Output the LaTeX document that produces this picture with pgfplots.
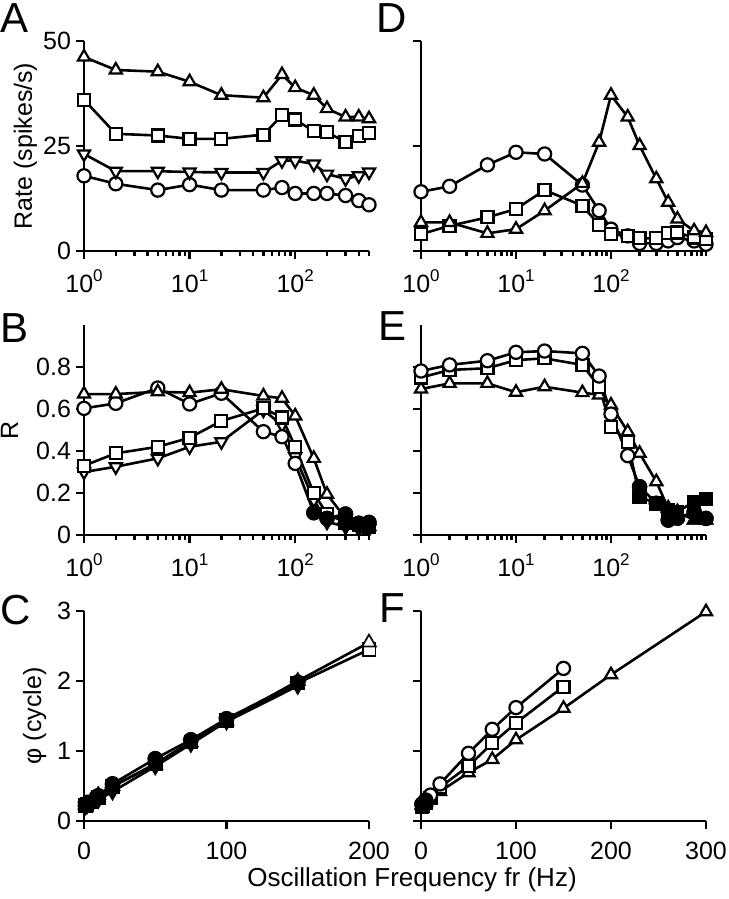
\documentclass[border=0pt]{standalone}
\usepackage{fontspec}
\setmainfont{Liberation Sans}
\usepackage{pgfplots}
\pgfplotsset{compat=1.18}
\newcommand{\dec}[1]{10\raisebox{0.44em}{\fontsize{8.5}{9}\selectfont #1}}
\pgfplotsset{
  panel/.style={
    scale only axis, width=142.5pt, height=105pt,
    axis lines*=left, clip=false,
    axis line style={line width=1.25pt},
    every tick/.style={line width=1.25pt, black},
    tick align=outside,
    major tick length=4pt, minor tick length=2.5pt,
    tick label style={font=\fontsize{12.5}{14}\selectfont},
    yticklabel style={xshift=1pt},
    anchor=north west,
  },
  ylab/.style={every axis y label/.style={at={(rel axis cs:0,0.5)}, xshift=#1, rotate=90, anchor=base, inner sep=0pt, font=\fontsize{12.5}{14}\selectfont}},
  linx/.style={xticklabel style={yshift=-2.8pt}},
  logA/.style={xmin=1, xmax=500, xtick={1,10,100},
    xticklabels={\dec{0},\dec{1},\dec{2}}, xticklabel style={yshift=-2pt},
    minor xtick={2,3,4,5,6,7,8,9,20,30,40,50,60,70,80,90,200,300,400,500}},
  logD/.style={xmin=1, xmax=1000, xtick={1,10,100},
    xticklabels={\dec{0},\dec{1},\dec{2}}, xticklabel style={yshift=-2pt},
    minor xtick={2,3,4,5,6,7,8,9,20,30,40,50,60,70,80,90,200,300,400,500,600,700,800,900,1000}},
  oc/.style={black, line width=1.3pt, mark=*, mark size=3.3pt, mark options={fill=white, line width=1.1pt}},
  os/.style={black, line width=1.3pt, mark=square*, mark size=3pt, mark options={fill=white, line width=1.1pt}},
  ot/.style={black, line width=1.3pt, mark=triangle*, mark size=3.5pt, mark options={fill=white, line width=1.1pt}},
  ov/.style={black, line width=1.3pt, mark=triangle*, mark size=3.5pt, mark options={fill=white, line width=1.1pt, rotate=180}},
  fc/.style={black, only marks, mark=*, mark size=3.3pt, mark options={fill=black, line width=1.1pt}},
  fs/.style={black, only marks, mark=square*, mark size=3pt, mark options={fill=black, line width=1.1pt}},
  ft/.style={black, only marks, mark=triangle*, mark size=3.5pt, mark options={fill=black, line width=1.1pt}},
  fv/.style={black, only marks, mark=triangle*, mark size=3.5pt, mark options={fill=black, line width=1.1pt, rotate=180}},
}
\begin{document}
\begin{tikzpicture}
\useasboundingbox (0pt,0pt) rectangle (364pt,-449.5pt);
\tikzset{lab/.style={anchor=base west, inner sep=0pt, font=\fontsize{21}{22}\selectfont}}
\node[lab] at (0pt,-16.5pt) {A};
\node[lab] at (0pt,-171pt) {B};
\node[lab] at (0pt,-312pt) {C};
\node[lab] at (188pt,-16.5pt) {D};
\node[lab] at (189pt,-170pt) {E};
\node[lab] at (189.5pt,-311pt) {F};
\node[anchor=base, inner sep=0pt, font=\fontsize{13}{15}\selectfont] at (206pt,-443pt) {Oscillation Frequency fr (Hz)};

% ---------- A ----------
\begin{axis}[xmode=log, panel, logA, ylab=-26pt, at={(42pt,-20.5pt)}, ymin=0, ymax=50, ytick={0,25,50}, yticklabels={0,25,50},
  ylabel={Rate (spikes/s)}]
\addplot[oc] coordinates {(1,17.9)(2,16)(5,14.5)(10,15.8)(20,14.5)(50,14.5)(75,15.1)(100,13.7)(150,13.7)(200,13.7)(300,13.2)(400,12)(500,11)};
\addplot[ov] coordinates {(1,23.1)(2,19)(5,19)(10,18.8)(20,18.7)(50,18.7)(75,21.5)(100,21.5)(150,20.7)(200,18.3)(300,17.2)(400,17.9)(500,18.8)};
\addplot[os] coordinates {(1,36)(2,27.9)(5,27.5)(10,26.7)(20,26.7)(50,27.7)(75,32.3)(100,31.3)(150,28.5)(200,28.3)(300,25.9)(400,27.3)(500,28)};
\addplot[ot] coordinates {(1,46.2)(2,43.1)(5,42.7)(10,40.3)(20,37.1)(50,36.5)(75,42)(100,38.9)(150,37.1)(200,33.9)(300,31.9)(400,31.9)(500,31.5)};
\end{axis}

% ---------- D ----------
\begin{axis}[xmode=log, panel, logD, at={(210.5pt,-20.5pt)}, ymin=0, ymax=50, ytick={0,25,50}, yticklabels={}]
\addplot[oc] coordinates {(1,14.1)(2,15.4)(5,20.5)(10,23.5)(20,23.1)(50,15.7)(75,9.6)(100,5.2)(150,3.6)(200,1.8)(300,1.8)(400,2.4)(500,3.2)(750,2.4)(1000,1.6)};
\addplot[os] coordinates {(1,4.0)(2,6.0)(5,8.0)(10,10.0)(20,14.5)(50,10.8)(75,6.2)(100,4.0)(150,3.6)(200,3.0)(300,3.0)(400,4.2)(500,4.4)(750,3.2)(1000,2.8)};
\addplot[ot] coordinates {(1,6.8)(2,6.8)(5,4.2)(10,5.2)(20,9.6)(50,16.1)(75,25.9)(100,37.1)(150,31.9)(200,25.1)(300,17.2)(400,11.6)(500,7.6)(750,4.8)(1000,4.4)};
\end{axis}

% ---------- B ----------
\begin{axis}[xmode=log, panel, logA, ylab=-33pt, at={(42pt,-162.5pt)}, ymin=0, ymax=1, ytick={0,0.2,0.4,0.6,0.8}, yticklabels={0,0.2,0.4,0.6,0.8},
  ylabel={R}]
\addplot[ov] coordinates {(1,0.30)(2,0.325)(5,0.365)(10,0.42)(20,0.444)(50,0.595)(75,0.524)(100,0.373)(150,0.167)(200,0.063)(300,0.04)(400,0.03)(500,0.03)};
\addplot[fv] coordinates {(200,0.063)(300,0.04)(400,0.03)(500,0.03)};
\addplot[os] coordinates {(1,0.33)(2,0.389)(5,0.42)(10,0.463)(20,0.543)(50,0.603)(75,0.56)(100,0.42)(150,0.199)(200,0.10)(300,0.06)(400,0.05)(500,0.04)};
\addplot[fs] coordinates {(300,0.06)(400,0.05)(500,0.04)};
\addplot[oc] coordinates {(1,0.603)(2,0.627)(5,0.70)(10,0.624)(20,0.675)(50,0.492)(75,0.468)(100,0.341)(150,0.106)(200,0.079)(300,0.10)(400,0.056)(500,0.06)};
\addplot[fc] coordinates {(150,0.106)(200,0.079)(300,0.10)(400,0.056)(500,0.06)};
\addplot[ot] coordinates {(1,0.671)(2,0.671)(5,0.682)(10,0.678)(20,0.694)(50,0.662)(75,0.651)(100,0.567)(150,0.365)(200,0.194)(300,0.08)(400,0.05)(500,0.04)};
\addplot[ft] coordinates {(300,0.08)(400,0.05)(500,0.04)};
\end{axis}

% ---------- E ----------
\begin{axis}[xmode=log, panel, logD, at={(210.5pt,-162.5pt)}, ymin=0, ymax=1, ytick={0,0.2,0.4,0.6,0.8}, yticklabels={}]
\addplot[ot] coordinates {(1,0.695)(2,0.722)(5,0.722)(10,0.68)(20,0.706)(50,0.678)(75,0.667)(100,0.619)(150,0.492)(200,0.389)(300,0.254)(400,0.127)(500,0.11)(750,0.071)(1000,0.071)};
\addplot[ft] coordinates {(400,0.127)(500,0.11)(750,0.071)(1000,0.071)};
\addplot[os] coordinates {(1,0.75)(2,0.786)(5,0.794)(10,0.833)(20,0.841)(50,0.81)(75,0.706)(100,0.516)(150,0.444)(200,0.182)(300,0.15)(400,0.119)(500,0.11)(750,0.159)(1000,0.17)};
\addplot[fs] coordinates {(200,0.182)(300,0.15)(400,0.119)(500,0.11)(750,0.159)(1000,0.17)};
\addplot[oc] coordinates {(1,0.781)(2,0.81)(5,0.83)(10,0.87)(20,0.876)(50,0.865)(75,0.757)(100,0.576)(150,0.378)(200,0.23)(300,0.151)(400,0.071)(500,0.08)(750,0.11)(1000,0.079)};
\addplot[fc] coordinates {(200,0.23)(300,0.151)(400,0.071)(500,0.08)(750,0.11)(1000,0.079)};
\end{axis}

% ---------- C ----------
\begin{axis}[panel, linx, ylab=-21.5pt, at={(42pt,-305.5pt)}, xmin=0, xmax=200, xtick={0,100,200}, xticklabels={0,100,200},
  ymin=0, ymax=3, ytick={0,1,2,3}, yticklabels={0,1,2,3}, ylabel={φ (cycle)}]
\addplot[ov, mark options={fill=black, rotate=180}] coordinates {(1,0.21)(2,0.22)(5,0.25)(10,0.3)(20,0.42)(50,0.78)(75,1.1)(100,1.42)(150,1.93)};
\addplot[os, mark options={fill=black}] coordinates {(1,0.22)(2,0.24)(5,0.27)(10,0.34)(20,0.49)(50,0.82)(75,1.13)(100,1.44)(150,1.97)(200,2.45)};
\addplot[fs, mark options={fill=white}] coordinates {(200,2.45)};
\addplot[ot, mark options={fill=black}] coordinates {(1,0.23)(2,0.25)(5,0.29)(10,0.37)(20,0.5)(50,0.8)(75,1.12)(100,1.43)(150,2.0)(200,2.55)};
\addplot[ft, mark options={fill=white}] coordinates {(200,2.55)};
\addplot[oc, mark options={fill=none}] coordinates {(1,0.22)(2,0.23)(5,0.27)(10,0.36)(20,0.53)(50,0.89)(75,1.16)(100,1.46)(150,1.98)};
\end{axis}

% ---------- F ----------
\begin{axis}[panel, linx, at={(210.5pt,-305.5pt)}, xmin=0, xmax=300, xtick={0,100,200,300}, xticklabels={0,100,200,300},
  ymin=0, ymax=3, ytick={0,1,2,3}, yticklabels={}]
\addplot[ot] coordinates {(1,0.23)(2,0.24)(5,0.27)(10,0.32)(20,0.42)(50,0.69)(75,0.88)(100,1.16)(150,1.61)(200,2.09)(300,2.99)};
\addplot[ft] coordinates {(1,0.23)(2,0.24)(5,0.27)};
\addplot[os] coordinates {(1,0.2)(2,0.22)(5,0.26)(10,0.33)(20,0.48)(50,0.786)(75,1.11)(100,1.40)(150,1.92)};
\addplot[fs] coordinates {(1,0.2)(2,0.22)(5,0.26)(10,0.33)};
\addplot[oc] coordinates {(1,0.24)(2,0.25)(5,0.3)(10,0.37)(20,0.53)(50,0.967)(75,1.31)(100,1.62)(150,2.18)};
\addplot[fc] coordinates {(1,0.24)(2,0.25)(5,0.3)};
\end{axis}
\end{tikzpicture}
\end{document}
